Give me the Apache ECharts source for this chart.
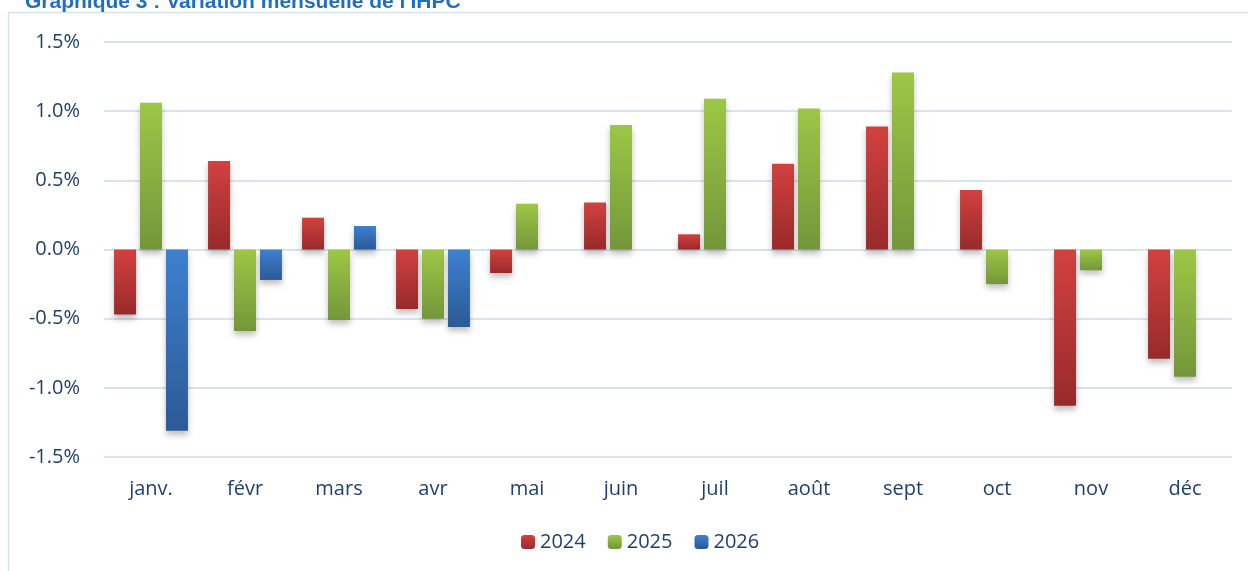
<!DOCTYPE html>
<html>
<head>
<meta charset="utf-8">
<script src="https://cdn.jsdelivr.net/npm/echarts@6/dist/echarts.min.js"></script>
<style>
  html, body { margin: 0; padding: 0; background: #fff; }
  #main { width: 1248px; height: 571px; }
</style>
</head>
<body>
<div id="main"></div>
<script>
// données
var mois = ['janv.', 'févr', 'mars', 'avr', 'mai', 'juin', 'juil', 'août', 'sept', 'oct', 'nov', 'déc'];
var v2024 = [-0.47, 0.64, 0.23, -0.43, -0.17, 0.34, 0.11, 0.62, 0.89, 0.43, -1.13, -0.79];
var v2025 = [1.06, -0.59, -0.51, -0.50, 0.33, 0.90, 1.09, 1.02, 1.28, -0.25, -0.15, -0.92];
var v2026 = [-1.31, -0.22, 0.17, -0.56, null, null, null, null, null, null, null, null];

var txt = '#1f3f6e';
var font = 'Open Sans';

function grad(top, bottom) {
  return new echarts.graphic.LinearGradient(0, 0, 0, 1, [
    { offset: 0, color: top },
    { offset: 1, color: bottom }
  ]);
}

function serie(name, data, top, bottom) {
  return {
    name: name,
    type: 'bar',
    data: data,
    barWidth: 22,
    barGap: '18%',
    itemStyle: {
      color: grad(top, bottom),
      shadowColor: 'rgba(0,0,0,0.25)',
      shadowBlur: 6,
      shadowOffsetY: 4
    }
  };
}

var myChart = echarts.init(document.getElementById('main'));
myChart.setOption({
  animation: false,
  title: {
    text: "Graphique 3 : Variation mensuelle de l'IHPC",
    left: 20,
    top: -13,
    textStyle: { color: '#1f6fc0', fontSize: 21, fontWeight: 'bold', fontFamily: 'Liberation Sans' }
  },
  graphic: [
    { type: 'line', shape: { x1: 8.5, y1: 12.5, x2: 8.5, y2: 571 }, style: { stroke: '#d5e2f2', lineWidth: 1.5 } },
    { type: 'line', shape: { x1: 8.5, y1: 12.5, x2: 1248, y2: 12.5 }, style: { stroke: '#d5e2f2', lineWidth: 1.5 } }
  ],
  legend: {
    bottom: 14,
    left: 516,
    itemWidth: 14,
    itemHeight: 14,
    itemGap: 22,
    data: ['2024', '2025', '2026'],
    textStyle: { color: txt, fontSize: 20, fontFamily: font }
  },
  grid: { left: 104, right: 16, top: 42, bottom: 114 },
  xAxis: {
    type: 'category',
    data: mois,
    axisLine: { show: false },
    axisTick: { show: false },
    axisLabel: {
      color: txt, fontSize: 20, fontFamily: font,
      interval: 0,
      margin: 22
    }
  },
  yAxis: {
    type: 'value',
    min: -1.5,
    max: 1.5,
    interval: 0.5,
    axisLine: { show: false },
    axisTick: { show: false },
    splitLine: { lineStyle: { color: '#d7e3f3', width: 2 } },
    axisLabel: {
      color: txt, fontSize: 20, fontFamily: font, margin: 24,
      formatter: function (v) { return v.toFixed(1) + '%'; }
    }
  },
  series: [
    serie('2024', v2024, '#d24140', '#982a2a'),
    serie('2025', v2025, '#9dc746', '#74963a'),
    serie('2026', v2026, '#3e80d0', '#2b5a96')
  ]
});
</script>
</body>
</html>
